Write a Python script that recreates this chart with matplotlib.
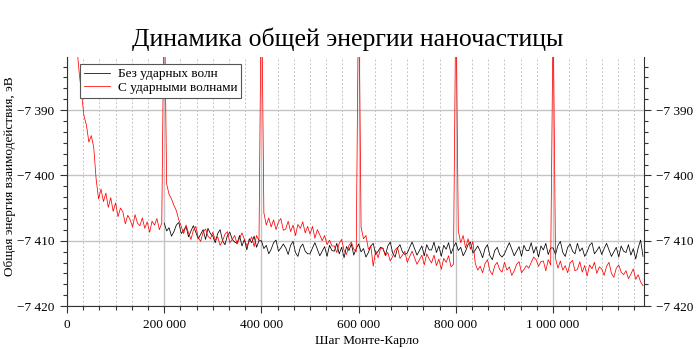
import numpy as np
import matplotlib
matplotlib.use("Agg")
import matplotlib.pyplot as plt
from matplotlib.ticker import MultipleLocator, FuncFormatter

plt.rcParams['font.family'] = ['Liberation Serif', 'DejaVu Serif']

# Monte-Carlo step sampling of the read-off values
step_size = 5000
black_start = 200000

# energy with shock waves (every 5000 steps from 0)
red_energy = [
    -7340, -7355, -7366, -7374, -7380, -7384.2, -7387.6, -7390.9, -7392.3, -7394.9,
    -7393.9, -7395.7, -7400.6, -7403.6, -7402.1, -7404.0, -7402.7, -7404.9, -7403.4, -7405.5,
    -7404.2, -7406.3, -7405.0, -7405.6, -7407.4, -7406.1, -7406.8, -7407.9, -7406.0, -7407.3,
    -7407.7, -7406.5, -7408.1, -7407.1, -7408.7, -7407.0, -7407.6, -7406.6, -7408.3, -7407.3,
    -7370, -7401.3, -7402.9, -7403.6, -7404.6, -7405.4, -7406.8, -7407.8, -7408.9, -7407.6,
    -7408.8, -7409.8, -7408.4, -7407.8, -7409.5, -7410.1, -7408.7, -7408.2, -7409.3, -7409.7,
    -7408.7, -7409.9, -7409.4, -7410.7, -7410.0, -7409.0, -7408.6, -7410.3, -7409.8, -7409.2,
    -7410.5, -7409.6, -7408.8, -7409.8, -7410.8, -7410.1, -7409.4, -7410.9, -7409.2, -7410.0,
    -7368, -7405.7, -7407.6, -7406.5, -7407.9, -7406.8, -7408.3, -7407.1, -7406.6, -7408.4,
    -7408.2, -7407.0, -7408.6, -7407.6, -7409.2, -7407.5, -7408.1, -7407.1, -7408.8, -7407.8,
    -7409.0, -7407.8, -7409.6, -7408.3, -7409.1, -7410.0, -7409.2, -7410.6, -7409.9, -7410.8,
    -7410.8, -7411.8, -7410.4, -7409.8, -7411.5, -7412.1, -7410.7, -7410.2, -7411.3, -7411.7,
    -7369, -7407.9, -7409.7, -7409.2, -7411.3, -7410.8, -7413.9, -7411.5, -7412.6, -7411.2,
    -7411.1, -7412.3, -7411.8, -7413.1, -7412.4, -7411.4, -7411.0, -7412.7, -7412.2, -7411.6,
    -7413.3, -7412.4, -7411.6, -7412.6, -7413.6, -7412.9, -7412.2, -7413.7, -7412.0, -7412.8,
    -7413.4, -7412.2, -7413.8, -7412.8, -7414.4, -7412.7, -7413.3, -7412.3, -7414.0, -7413.6,
    -7372, -7408.5, -7410.3, -7409.2, -7411.1, -7409.7, -7411.3, -7410.1, -7413.5, -7414.5,
    -7413.9, -7414.9, -7413.5, -7412.9, -7414.6, -7415.2, -7413.8, -7413.3, -7414.4, -7414.8,
    -7413.3, -7414.5, -7414.0, -7415.3, -7414.6, -7413.6, -7413.2, -7414.9, -7414.4, -7413.8,
    -7414.2, -7413.3, -7412.5, -7412.9, -7413.9, -7413.2, -7413.1, -7414.6, -7412.9, -7413.7,
    -7375, -7412.7, -7414.2, -7413.1, -7414.5, -7413.8, -7414.9, -7413.4, -7413.0, -7414.6,
    -7414.4, -7413.2, -7414.8, -7413.8, -7415.4, -7413.7, -7414.3, -7413.3, -7415.0, -7414.0,
    -7414.3, -7415.3, -7413.9, -7413.3, -7415.0, -7415.6, -7414.2, -7413.7, -7414.8, -7415.2,
    -7414.6, -7415.8, -7415.1, -7414.3, -7415.9, -7415.2, -7416.3, -7416.9,
]

# energy without shock waves (every 5000 steps from 200 000)
black_energy = [
    -7407.3, -7408.5, -7408.0, -7409.3, -7408.6, -7407.6, -7407.2, -7408.9, -7408.4, -7407.8,
    -7409.4, -7408.5, -7407.7, -7408.7, -7409.7, -7409.0, -7408.3, -7409.8, -7408.1, -7408.9,
    -7409.3, -7410.3, -7408.9, -7408.3, -7410.0, -7410.6, -7409.2, -7408.7, -7409.8, -7410.2,
    -7410.4, -7409.2, -7410.8, -7409.8, -7411.4, -7409.7, -7410.3, -7409.3, -7411.0, -7410.0,
    -7410.0, -7411.2, -7410.7, -7412.0, -7411.3, -7410.3, -7409.9, -7411.6, -7411.1, -7410.5,
    -7411.1, -7412.1, -7410.7, -7410.1, -7411.8, -7412.4, -7411.0, -7410.5, -7411.6, -7412.0,
    -7412.0, -7411.1, -7410.3, -7411.3, -7412.3, -7411.6, -7410.9, -7412.4, -7410.7, -7411.5,
    -7411.6, -7410.4, -7412.0, -7411.0, -7412.6, -7410.9, -7411.5, -7410.5, -7412.2, -7411.2,
    -7410.5, -7411.7, -7411.2, -7412.5, -7411.8, -7410.8, -7410.4, -7412.1, -7411.6, -7411.0,
    -7411.2, -7412.2, -7410.8, -7410.2, -7411.9, -7412.5, -7411.1, -7410.6, -7411.7, -7412.1,
    -7411.9, -7411.0, -7410.2, -7411.2, -7412.2, -7411.5, -7410.8, -7412.3, -7410.6, -7411.4,
    -7411.4, -7410.2, -7411.8, -7410.8, -7412.4, -7410.7, -7411.3, -7410.3, -7412.0, -7411.0,
    -7410.3, -7411.5, -7411.0, -7412.3, -7411.6, -7410.6, -7410.2, -7411.9, -7411.4, -7410.8,
    -7411.6, -7412.6, -7411.2, -7410.6, -7412.3, -7412.9, -7411.5, -7411.0, -7412.1, -7412.5,
    -7412.0, -7411.1, -7410.3, -7411.3, -7412.3, -7411.6, -7410.9, -7412.4, -7410.7, -7411.5,
    -7411.5, -7410.3, -7411.9, -7410.9, -7412.5, -7410.8, -7411.4, -7410.4, -7412.1, -7411.1,
    -7411.1, -7412.1, -7410.7, -7410.1, -7411.8, -7412.4, -7411.0, -7410.5, -7411.6, -7412.0,
    -7410.4, -7411.6, -7411.1, -7412.4, -7411.7, -7410.7, -7410.3, -7412.0, -7411.5, -7410.9,
    -7412.1, -7411.2, -7410.4, -7411.4, -7412.4, -7411.7, -7411.0, -7412.5, -7410.8, -7411.6,
    -7411.8, -7410.6, -7412.2, -7411.2, -7412.8, -7411.1, -7409.9, -7412.4,
]

title = "Динамика общей энергии наночастицы"
xlabel = "Шаг Монте-Карло"
ylabel = "Общая энергия взаимодействия, эВ"
labels = ["Без ударных волн", "С ударными волнами"]

red_steps = np.arange(len(red_energy)) * step_size
black_steps = black_start + np.arange(len(black_energy)) * step_size


def fmt_thousands(v, pos):
    # "7 390" style with a real minus sign
    return f"{v:,.0f}".replace(",", " ").replace("-", "\u2212")


fig = plt.figure(figsize=(7.0, 3.49), dpi=100)
ax = fig.add_axes([0.0957, 0.123, 0.8243, 0.715])

ax.plot(black_steps, black_energy, color="black", lw=0.55, label=labels[0], zorder=3)
ax.plot(red_steps, red_energy, color="#ff0000", lw=0.55, label=labels[1], zorder=4)

ax.set_xlim(0, 1187000)
ax.set_ylim(-7420, -7381.8)

ax.xaxis.set_major_locator(MultipleLocator(200000))
ax.xaxis.set_minor_locator(MultipleLocator(200000 / 6))
ax.yaxis.set_major_locator(MultipleLocator(10))
ax.yaxis.set_minor_locator(MultipleLocator(10 / 6))
ax.xaxis.set_major_formatter(FuncFormatter(fmt_thousands))
ax.yaxis.set_major_formatter(FuncFormatter(fmt_thousands))

ax.grid(which="major", color="#c4c4c4", lw=1.0, ls="-", zorder=0)
ax.grid(which="minor", axis="x", color="#c4c4c4", lw=0.7, ls=(0, (2, 2)), zorder=0)

ax.tick_params(which="both", direction="out", colors="#333333", labelcolor="black",
               labelsize=9.5, right=True, labelright=True, top=False)
ax.tick_params(which="major", length=5, width=0.8, pad=4)
ax.tick_params(which="minor", length=3, width=0.8)

for side in ["left", "right", "bottom"]:
    ax.spines[side].set_color("#333333")
    ax.spines[side].set_linewidth(0.8)
ax.spines["top"].set_visible(False)

ax.set_xlabel(xlabel, fontsize=9.5)
ax.xaxis.set_label_coords(0.52, -0.115)
ax.set_ylabel(ylabel, fontsize=9.5)
ax.yaxis.set_label_coords(-0.088, 0.52)

fig.text(0.497, 0.888, title, fontsize=18.5, ha="center", va="center")

leg = ax.legend(loc="upper left", bbox_to_anchor=(0.022, 0.97), fontsize=9.5,
                frameon=True, fancybox=False, framealpha=1, edgecolor="#555555",
                handlelength=2.0, handletextpad=0.6, borderpad=0.3, labelspacing=0.1,
                borderaxespad=0)
leg.get_frame().set_linewidth(0.8)

fig.savefig("out.png", dpi=100)
plt.close(fig)
